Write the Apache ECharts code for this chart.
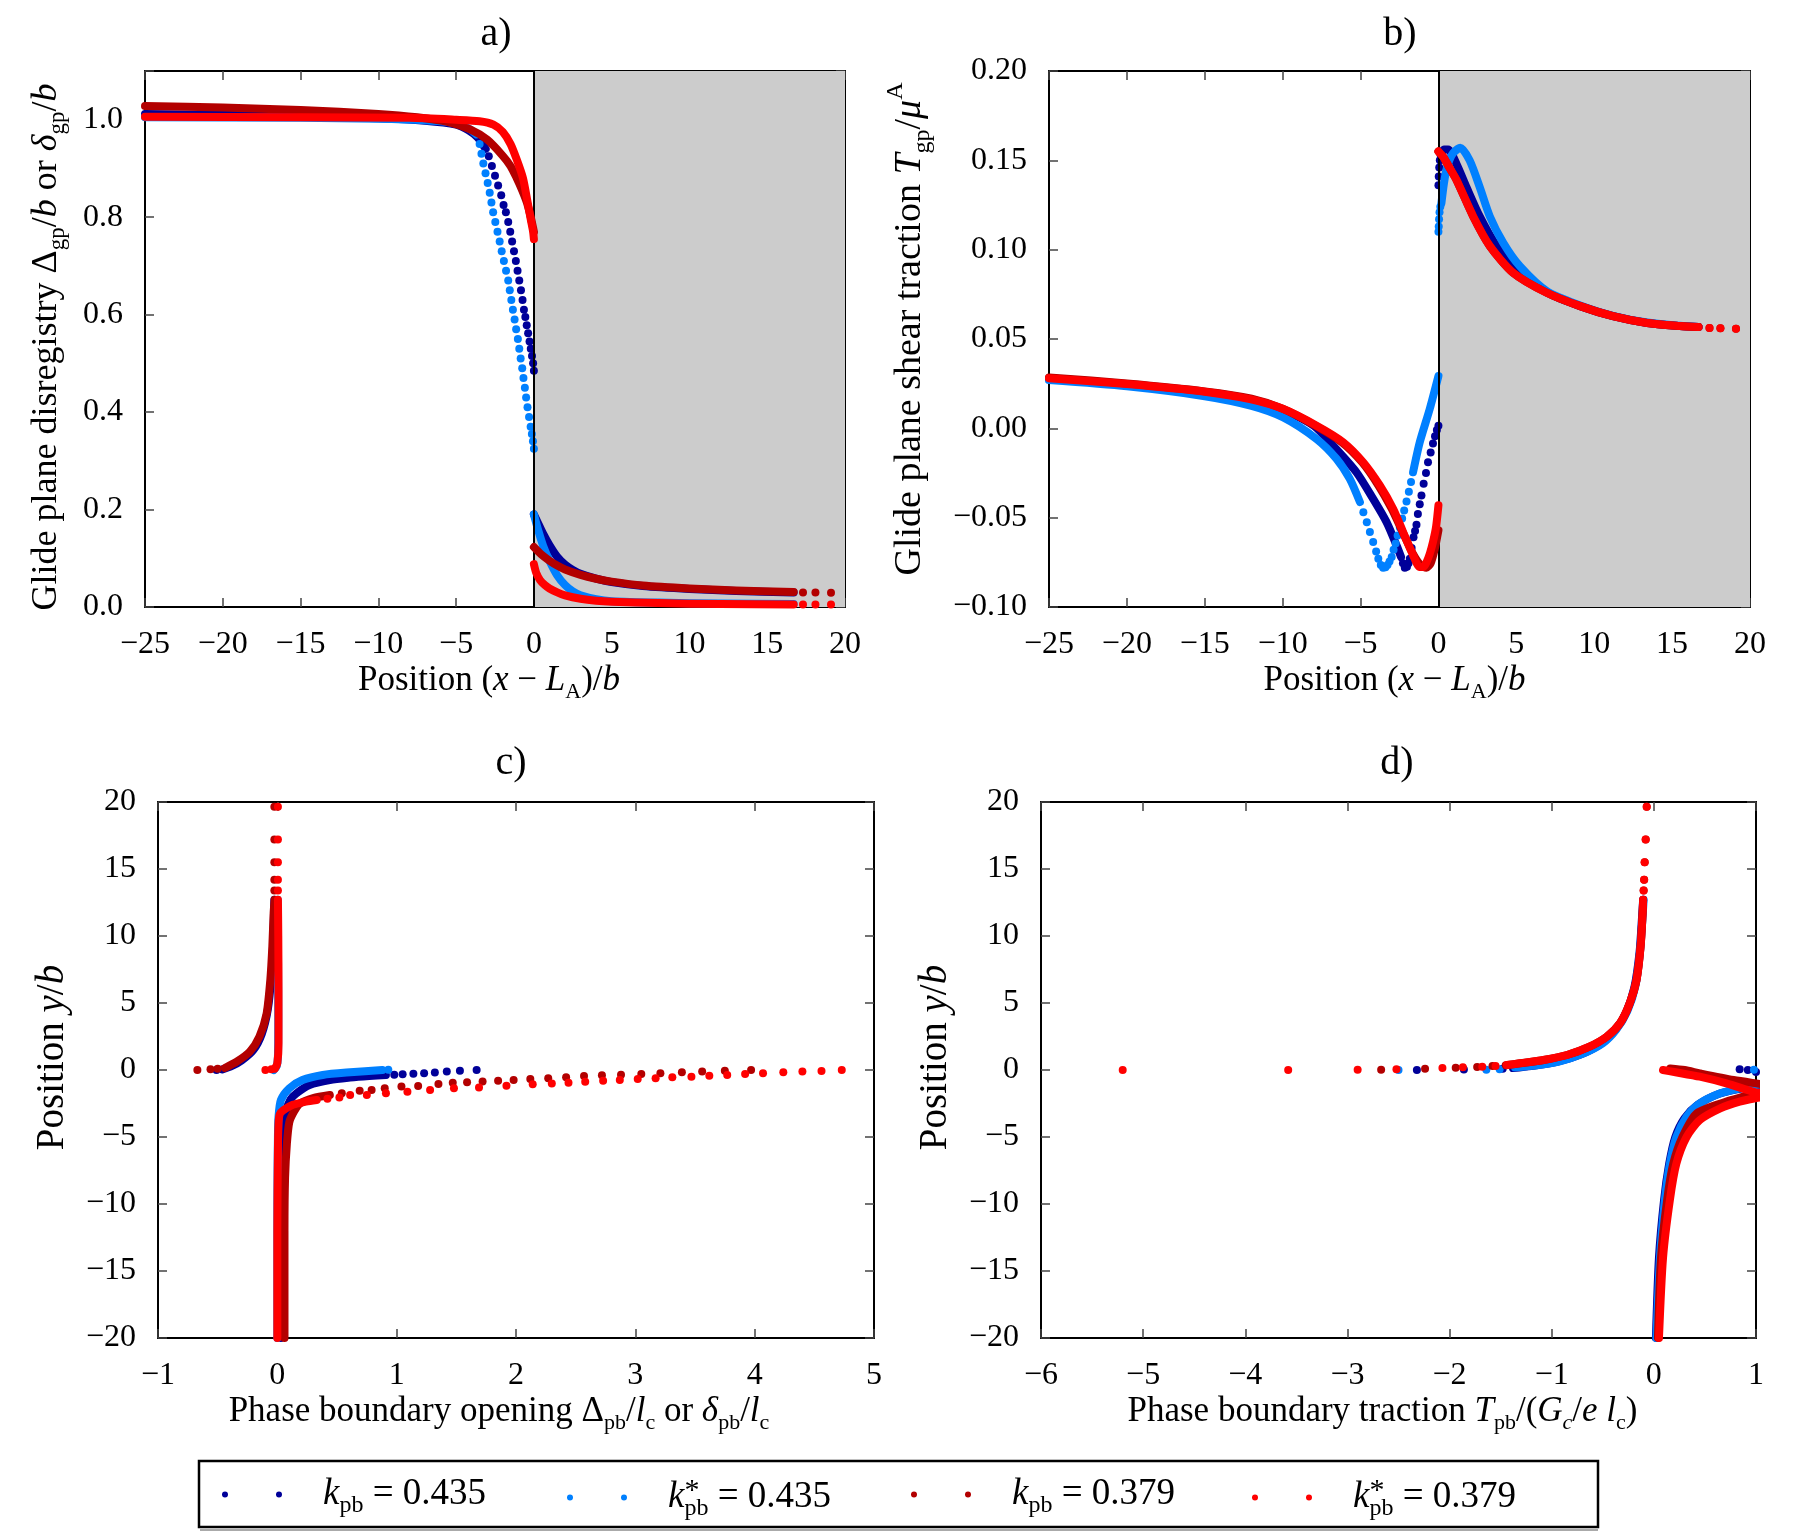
<!DOCTYPE html>
<html>
<head>
<meta charset="utf-8">
<script src="https://cdn.jsdelivr.net/npm/echarts@6/dist/echarts.min.js"></script>
<style>
html, body { margin: 0; padding: 0; background: #fff; }
#chart { width: 1800px; height: 1534px; }
</style>
</head>
<body>
<div id="chart"></div>
<script>
// ---- data: [x, y] pairs ----
// "Band" = densely sampled stretch (drawn as a thick line), "Dots" = isolated points

// a) glide plane disregistry
const aK435Band = [
  [[-25, 1.012], [-20, 1.01], [-15, 1.007], [-10, 1.003], [-7, 0.998], [-5, 0.99], [-4.2, 0.978], [-3.6, 0.963], [-3.1, 0.94]],
  [[0, 0.19], [0.3, 0.17], [0.6, 0.15], [1, 0.127], [1.5, 0.103], [2, 0.087], [2.5, 0.076], [3, 0.068], [4, 0.058], [5, 0.051], [7, 0.043], [10, 0.037], [13, 0.033], [16.7, 0.03]]
];
const aK435Dots = [[-2.9, 0.925], [-2.7, 0.905], [-2.5, 0.885], [-2.3, 0.865], [-2.1, 0.845], [-1.95, 0.825], [-1.8, 0.81], [-1.65, 0.79], [-1.52, 0.77], [-1.4, 0.75], [-1.28, 0.73], [-1.16, 0.71], [-1.05, 0.69], [-0.94, 0.67], [-0.83, 0.65], [-0.73, 0.63], [-0.64, 0.61], [-0.55, 0.595], [-0.46, 0.578], [-0.37, 0.562], [-0.28, 0.545], [-0.2, 0.53], [-0.12, 0.515], [-0.05, 0.5], [0, 0.485]];
const aKs435Band = [
  [[-25, 1.005], [-15, 1.004], [-10, 1.002], [-7, 0.999], [-5.5, 0.995], [-4.6, 0.988], [-4.1, 0.98], [-3.7, 0.97]],
  [[0, 0.19], [0.3, 0.155], [0.6, 0.125], [1, 0.095], [1.5, 0.065], [2, 0.045], [2.5, 0.032], [3, 0.024], [4, 0.016], [5, 0.012], [8, 0.009], [12, 0.007], [16.7, 0.006]]
];
const aKs435Dots = [[-3.49, 0.95], [-3.37, 0.93], [-3.25, 0.91], [-3.11, 0.89], [-2.97, 0.87], [-2.84, 0.85], [-2.73, 0.83], [-2.62, 0.81], [-2.48, 0.79], [-2.34, 0.77], [-2.2, 0.75], [-2.07, 0.73], [-1.93, 0.71], [-1.79, 0.69], [-1.65, 0.67], [-1.55, 0.65], [-1.45, 0.63], [-1.35, 0.61], [-1.24, 0.59], [-1.14, 0.57], [-1.03, 0.55], [-0.94, 0.53], [-0.85, 0.51], [-0.75, 0.49], [-0.67, 0.47], [-0.58, 0.45], [-0.5, 0.43], [-0.41, 0.41], [-0.31, 0.39], [-0.21, 0.37], [-0.13, 0.355], [-0.06, 0.34], [0, 0.325]];
const aK379Band = [
  [[-25, 1.028], [-20, 1.025], [-15, 1.02], [-10, 1.012], [-7.5, 1.005], [-5.5, 0.995], [-4.1, 0.98], [-3, 0.959], [-2, 0.926], [-1.5, 0.905], [-1.1, 0.88], [-0.75, 0.855], [-0.45, 0.83], [-0.2, 0.8], [-0.05, 0.778], [0, 0.77]],
  [[0, 0.123], [0.5, 0.107], [1, 0.095], [1.5, 0.085], [2, 0.077], [3, 0.066], [4, 0.058], [5, 0.052], [7, 0.044], [10, 0.038], [13, 0.034], [16.7, 0.031]]
];
const aK379Dots = [[17.3, 0.03], [18.1, 0.03], [19.1, 0.029]];
const aKs379Band = [
  [[-25, 1.006], [-15, 1.005], [-8, 1.004], [-5, 1.0], [-3.5, 0.997], [-2.6, 0.99], [-2, 0.975], [-1.5, 0.95], [-1.1, 0.918], [-0.7, 0.88], [-0.4, 0.83], [-0.2, 0.795], [-0.05, 0.77], [0, 0.755]],
  [[0, 0.088], [0.15, 0.07], [0.4, 0.055], [0.7, 0.045], [1, 0.038], [1.5, 0.03], [2, 0.024], [3, 0.017], [4, 0.013], [5, 0.011], [8, 0.008], [12, 0.006], [16.7, 0.005]]
];
const aKs379Dots = [[17.3, 0.005], [18.1, 0.005], [19.1, 0.005]];

// b) glide plane shear traction
const bK435Band = [
  [[-25, 0.0278], [-20, 0.0243], [-15, 0.0198], [-12, 0.0158], [-10, 0.0103], [-8, 0.0015], [-6.76, -0.0097], [-5.26, -0.0246], [-4.19, -0.0395], [-3.33, -0.0525], [-2.69, -0.0655], [-2.4, -0.072]],
  [[0.15, 0.153], [0.35, 0.156], [0.62, 0.156], [1.16, 0.148], [1.8, 0.135], [2.65, 0.1186], [3.73, 0.102], [5, 0.088], [7, 0.0759], [9.1, 0.0684], [11.2, 0.0628], [13.4, 0.059], [15.5, 0.0573], [16.7, 0.0567]]
];
const bK435Dots = [[-2.28, -0.0755], [-2.16, -0.078], [-2.02, -0.0775], [-1.92, -0.0755], [-1.84, -0.073], [-1.72, -0.067], [-1.6, -0.061], [-1.5, -0.0575], [-1.41, -0.054], [-1.32, -0.048], [-1.2, -0.0425], [-1.09, -0.0376], [-0.95, -0.031], [-0.8, -0.025], [-0.67, -0.019], [-0.5, -0.0135], [-0.35, -0.0085], [-0.22, -0.0045], [-0.1, -0.001], [0, 0.0015], [0, 0.136], [0.02, 0.141], [0.05, 0.146], [0.09, 0.15]];
const bKs435Band = [
  [[-25, 0.027], [-20, 0.0235], [-15, 0.018], [-12, 0.0126], [-9.96, 0.0061], [-7.82, -0.006], [-6.54, -0.0171], [-5.69, -0.0283], [-5.04, -0.0413]],
  [[-1.63, -0.0246], [-1.2, -0.0078], [-0.56, 0.0108], [0, 0.0293]],
  [[0.19, 0.126], [0.35, 0.137], [0.51, 0.1447], [0.7, 0.15], [0.94, 0.154], [1.4, 0.157], [2, 0.15], [2.65, 0.135], [3.3, 0.1186], [4.16, 0.1038], [5.23, 0.0907], [7, 0.0765], [9.1, 0.0688], [11.2, 0.063], [13.4, 0.0592], [15.5, 0.0574], [16.7, 0.0567]]
];
const bKs435Dots = [[-4.82, -0.047], [-4.6, -0.0525], [-4.4, -0.058], [-4.19, -0.0636], [-4, -0.069], [-3.86, -0.073], [-3.7, -0.0765], [-3.55, -0.078], [-3.4, -0.0778], [-3.27, -0.0765], [-3.14, -0.0745], [-3, -0.072], [-2.88, -0.068], [-2.75, -0.0645], [-2.62, -0.06], [-2.48, -0.0555], [-2.33, -0.0505], [-2.2, -0.046], [-2.05, -0.041], [-1.9, -0.0355], [-1.76, -0.03], [0, 0.11], [0.02, 0.113], [0.04, 0.117], [0.07, 0.121], [0.12, 0.124]];
const bK379Band = [
  [[-25, 0.0285], [-20, 0.0251], [-15, 0.0207], [-12, 0.0166], [-10, 0.011], [-8, 0.002], [-6.2, -0.0078], [-4.9, -0.019], [-3.85, -0.032], [-3, -0.045], [-2.3, -0.058], [-1.65, -0.07], [-1.15, -0.0765], [-0.77, -0.078], [-0.5, -0.0755], [-0.25, -0.068], [0, -0.057]],
  [[0, 0.155], [0.3, 0.152], [0.7, 0.146], [1.16, 0.139], [2.23, 0.1186], [3.3, 0.102], [4.8, 0.087], [6.95, 0.0759], [9.1, 0.0684], [11.2, 0.0628], [13.4, 0.059], [15.5, 0.0573], [16.7, 0.0567]]
];
const bK379Dots = [[17.4, 0.0562], [18.1, 0.056], [19.1, 0.0558]];
const bKs379Band = [
  [[-25, 0.028], [-20, 0.0248], [-15, 0.0205], [-12.1, 0.0163], [-9.96, 0.0108], [-7.82, 0.0015], [-6.11, -0.0078], [-4.83, -0.019], [-3.76, -0.032], [-2.91, -0.045], [-2.27, -0.058], [-1.63, -0.071], [-1.2, -0.0776], [-0.95, -0.0775], [-0.77, -0.075], [-0.55, -0.07], [-0.35, -0.0636], [-0.15, -0.055], [0, -0.043]],
  [[0, 0.155], [0.3, 0.152], [0.7, 0.146], [1.16, 0.139], [2.23, 0.1186], [3.3, 0.102], [4.8, 0.087], [6.95, 0.0759], [9.1, 0.0684], [11.2, 0.0628], [13.4, 0.059], [15.5, 0.0573], [16.7, 0.0567]]
];
const bKs379Dots = [[17.4, 0.0562], [18.1, 0.056], [19.1, 0.0558]];

// c) phase boundary opening vs position
const cK435Band = [
  [[-0.46, 0.05], [-0.38, 0.3], [-0.3, 0.7], [-0.2, 1.5], [-0.13, 2.7], [-0.08, 4.5], [-0.05, 7], [-0.035, 9.5], [-0.025, 12.7]],
  [[0.03, -20], [0.03, -12], [0.035, -8], [0.045, -5.5], [0.06, -4], [0.075, -3], [0.11, -2.2], [0.16, -1.74], [0.27, -1.12], [0.44, -0.75], [0.61, -0.57], [0.77, -0.45], [0.91, -0.37]]
];
const cK435Dots = [[-0.51, 0], [0.98, -0.35], [1.05, -0.32], [1.14, -0.28], [1.23, -0.24], [1.32, -0.18], [1.42, -0.12], [1.53, -0.06], [1.67, 0]];
const cKs435Band = [
  [[-0.03, 0], [-0.005, 0.3], [0.005, 1], [0.008, 4], [0.006, 8], [0.003, 12.7]],
  [[0, -20], [0, -10], [0.005, -5], [0.01, -3.5], [0.03, -2.24], [0.1, -1.37], [0.21, -0.75], [0.38, -0.37], [0.61, -0.17], [0.88, 0]]
];
const cKs435Dots = [[0.93, 0.02]];
const cK379Band = [
  [[-0.44, 0.15], [-0.34, 0.62], [-0.23, 1.37], [-0.15, 2.49], [-0.09, 4.2], [-0.059, 6.7], [-0.042, 9.2], [-0.031, 11.7], [-0.023, 12.7]],
  [[0.06, -20], [0.06, -12], [0.065, -8], [0.08, -5.5], [0.1, -3.9], [0.14, -3.1], [0.19, -2.5], [0.3, -2.1], [0.44, -1.87]]
];
const cK379Dots = [[-0.67, 0], [-0.56, 0.05], [-0.5, 0.1], [-0.025, 13.4], [-0.025, 14.2], [-0.025, 15.5], [-0.025, 17.2], [-0.025, 19.65], [0.54, -1.74], [0.69, -1.54], [0.79, -1.5], [0.9, -1.37], [1.04, -1.24], [1.18, -1.2], [1.35, -1.05], [1.47, -0.95], [1.59, -0.92], [1.72, -0.85], [1.85, -0.8], [1.98, -0.75], [2.12, -0.67], [2.27, -0.62], [2.42, -0.55], [2.57, -0.45], [2.72, -0.4], [2.88, -0.35], [3.05, -0.3], [3.21, -0.25], [3.39, -0.17], [3.56, -0.12], [3.75, -0.05], [3.97, 0]];
const cKs379Band = [
  [[-0.02, 0.1], [0, 0.5], [0.01, 2], [0.01, 6], [0.008, 10], [0.005, 12.7]],
  [[0, -20], [0, -12], [0.005, -6], [0.01, -4], [0.02, -3.3], [0.05, -3], [0.13, -2.6], [0.24, -2.36], [0.33, -2.24]]
];
const cKs379Dots = [[-0.1, 0], [-0.05, 0.05], [0.005, 13.4], [0.005, 14.2], [0.005, 15.5], [0.005, 17.2], [0.005, 19.65], [0.42, -2.15], [0.52, -2.05], [0.61, -1.87], [0.75, -1.87], [0.91, -1.74], [1.09, -1.62], [1.28, -1.49], [1.48, -1.37], [1.69, -1.3], [1.92, -1.17], [2.14, -1.07], [2.3, -1], [2.44, -0.95], [2.58, -0.87], [2.73, -0.8], [2.87, -0.75], [3.02, -0.67], [3.17, -0.62], [3.31, -0.55], [3.47, -0.5], [3.62, -0.42], [3.77, -0.37], [3.92, -0.3], [4.07, -0.25], [4.24, -0.17], [4.4, -0.12], [4.56, -0.07], [4.73, 0]];

// d) phase boundary traction vs position
const dK435Band = [
  [[-1.38, 0.15], [-1.2, 0.3], [-0.95, 0.6], [-0.72, 1.15], [-0.52, 1.95], [-0.38, 2.95], [-0.27, 4.3], [-0.19, 6.2], [-0.14, 8.8], [-0.115, 11.5], [-0.105, 12.7]],
  [[0.02, -20], [0.05, -14], [0.1, -9.7], [0.15, -7], [0.21, -5], [0.3, -3.6], [0.43, -2.6], [0.63, -1.8], [0.84, -1.4], [1, -1.15], [1.1, -1.05]]
];
const dK435Dots = [[-2.32, 0], [-1.86, 0.03], [-1.48, 0.1], [0.84, 0.05], [0.92, 0], [1, -0.15]];
const dKs435Band = [
  [[-1.36, 0.2], [-1.15, 0.35], [-0.92, 0.65], [-0.7, 1.2], [-0.5, 2], [-0.37, 3], [-0.26, 4.4], [-0.18, 6.3], [-0.135, 8.9], [-0.11, 11.5], [-0.1, 12.7]],
  [[0.025, -20], [0.06, -14], [0.108, -9.7], [0.157, -7], [0.22, -5], [0.32, -3.5], [0.45, -2.49], [0.65, -1.74], [0.84, -1.37], [1, -1.12], [1.1, -1]]
];
const dKs435Dots = [[-2.5, 0], [-1.64, 0.02], [-1.51, 0.06], [0.98, 0.02], [1.02, -0.1]];
const dK379Band = [
  [[-1.45, 0.35], [-1.31, 0.5], [-1.08, 0.75], [-0.85, 1.12], [-0.63, 1.74], [-0.46, 2.49], [-0.33, 3.5], [-0.235, 5], [-0.17, 6.7], [-0.13, 9.2], [-0.11, 11.7], [-0.105, 12.7]],
  [[0.16, 0.12], [0.3, 0], [0.45, -0.25], [0.78, -0.75], [1, -1], [1.1, -1.1]],
  [[0.04, -20], [0.07, -14], [0.13, -9.7], [0.19, -7], [0.28, -5], [0.42, -3.23], [0.71, -2.36], [1, -1.75], [1.1, -1.6]]
];
const dK379Dots = [[-2.67, 0.02], [-2.24, 0.1], [-1.94, 0.17], [-1.73, 0.23], [-1.58, 0.3], [-0.1, 13.4], [-0.095, 14.2], [-0.09, 15.5], [-0.08, 17.2], [-0.07, 19.65]];
const dKs379Band = [
  [[-1.44, 0.37], [-1.31, 0.5], [-1.08, 0.75], [-0.85, 1.12], [-0.63, 1.74], [-0.46, 2.49], [-0.33, 3.5], [-0.235, 5], [-0.17, 6.7], [-0.13, 9.2], [-0.11, 11.7], [-0.105, 12.7]],
  [[0.09, 0], [0.2, -0.15], [0.45, -0.5], [0.71, -1], [0.97, -1.62], [1.1, -1.85]],
  [[0.05, -20], [0.09, -14], [0.157, -9.7], [0.22, -7], [0.32, -5], [0.45, -3.73], [0.65, -2.86], [0.84, -2.36], [1, -2.1], [1.1, -1.98]]
];
const dKs379Dots = [[-5.2, 0], [-3.58, 0], [-2.9, 0.02], [-2.52, 0.05], [-2.07, 0.15], [-1.87, 0.2], [-1.68, 0.25], [-1.55, 0.3], [-0.1, 13.4], [-0.095, 14.2], [-0.09, 15.5], [-0.08, 17.2], [-0.07, 19.65]];

// legend labels
const seriesKeys = ['k435', 'ks435', 'k379', 'ks379'];
const legendLabels = {
  k435: '{sp| }{it|k}{sub|pb} = 0.435',
  ks435: '{sp| }{it|k}{star|*}{sub|pb} = 0.435',
  k379: '{sp| }{it|k}{sub|pb} = 0.379',
  ks379: '{sp| }{it|k}{star|*}{sub|pb} = 0.379'
};

// ---- styling ----
const FONT = '"Liberation Serif", "DejaVu Serif", serif';
const STYLE = {
  k435: { color: '#000099', z: 3 },
  ks435: { color: '#0080ff', z: 4 },
  k379: { color: '#b30000', z: 5 },
  ks379: { color: '#ff0000', z: 6 }
};
const DOT = 8;

function richSet(size) {
  const s = Math.round(size * 0.64);
  return {
    it: { fontStyle: 'italic', fontSize: size, fontFamily: FONT, color: '#000' },
    sub: { fontSize: s, fontFamily: FONT, color: '#000', padding: [Math.round(size * 0.62), 0, 0, 0] },
    subi: { fontSize: s, fontStyle: 'italic', fontFamily: FONT, color: '#000', padding: [Math.round(size * 0.62), 0, 0, 0] },
    sup: { fontSize: s, fontFamily: FONT, color: '#000', padding: [0, 0, Math.round(size * 0.75), 0] },
    star: { fontSize: Math.round(size * 0.8), fontFamily: FONT, color: '#000', padding: [0, 0, Math.round(size * 0.35), 0], width: 0 },
    sp: { width: 36 }
  };
}

function fmt(d, step) {
  return function (v) {
    if (step && Math.abs(v / step - Math.round(v / step)) > 1e-6) return '';
    const s = Math.abs(v).toFixed(d);
    return (v < -1e-9 ? '\u2212' : '') + s;
  };
}

const grids = [
  { left: 145, top: 71, width: 700, height: 536 },
  { left: 1049, top: 71, width: 701, height: 536 },
  { left: 158, top: 802, width: 716, height: 536 },
  { left: 1041, top: 802, width: 715, height: 536 }
];

const xAxes = [], yAxes = [];
// shiftPad: extra padding [top, right, bottom, left] used to nudge the axis name along the axis
function axisPair(list, g, isX, min, max, interval, labelFmt, name, nameGap, nameSize, shiftPad) {
  const common = {
    type: 'value', gridIndex: g, min: min, max: max, interval: interval,
    splitLine: { show: false },
    axisLine: { show: true, onZero: false, lineStyle: { color: '#000', width: 2 } },
    axisTick: { show: true, inside: true, length: 9, lineStyle: { color: '#444', width: 1.5 } }
  };
  list.push(Object.assign({}, common, {
    position: isX ? 'bottom' : 'left',
    axisLabel: { formatter: labelFmt, fontSize: 32, fontFamily: FONT, color: '#000', margin: isX ? 22 : 22 },
    name: name, nameLocation: 'middle', nameGap: nameGap,
    nameTextStyle: { fontSize: nameSize, fontFamily: FONT, color: '#000', rich: richSet(nameSize), padding: shiftPad }
  }));
  list.push(Object.assign({}, common, { position: isX ? 'top' : 'right', axisLabel: { show: false } }));
}

const posName = 'Position ({it|x} \u2212 {it|L}{sub|A})/{it|b}';
axisPair(xAxes, 0, true, -25, 20, 5, fmt(0), posName, 52, 35, [0, 12, 0, 0]);
axisPair(yAxes, 0, false, 0, 1.1, 0.2, fmt(1, 0.2), 'Glide plane disregistry \u0394{sub|gp}/{it|b} or {it|\u03b4}{sub|gp}/{it|b}', 76, 36, [0, 16, 0, 0]);
axisPair(xAxes, 1, true, -25, 20, 5, fmt(0), posName, 52, 35, [0, 10, 0, 0]);
axisPair(yAxes, 1, false, -0.1, 0.2, 0.05, fmt(2), 'Glide plane shear traction {it|T}{sub|gp}/{it|\u03bc}{sup|A}', 112, 38, [0, 0, 0, 20]);
axisPair(xAxes, 2, true, -1, 5, 1, fmt(0), 'Phase boundary opening \u0394{sub|pb}/{it|l}{sub|c} or {it|\u03b4}{sub|pb}/{it|l}{sub|c}', 52, 35, [0, 34, 0, 0]);
axisPair(yAxes, 2, false, -20, 20, 5, fmt(0), 'Position {it|y}/{it|b}', 86, 39, [0, 0, 0, 25]);
axisPair(xAxes, 3, true, -6, 1, 1, fmt(0), 'Phase boundary traction {it|T}{sub|pb}/({it|G}{subi|c}/{it|e l}{sub|c})', 52, 35, [0, 32, 0, 0]);
axisPair(yAxes, 3, false, -20, 20, 5, fmt(0), 'Position {it|y}/{it|b}', 86, 39, [0, 0, 0, 25]);

const series = [];
// gray shaded region and x = 0 line in panels a) and b)
[0, 1].forEach(function (g) {
  series.push({
    type: 'line', xAxisIndex: 2 * g, yAxisIndex: 2 * g, data: [], z: 1, silent: true,
    markArea: { silent: true, itemStyle: { color: '#cccccc' }, data: [[{ xAxis: 0 }, { xAxis: 20 }]] },
    markLine: { silent: true, symbol: 'none', label: { show: false }, lineStyle: { color: '#000', width: 2, type: 'solid' }, data: [{ xAxis: 0 }] }
  });
});

function addPanel(g, key, bands, dots) {
  const s = STYLE[key];
  bands.forEach(function (seg) {
    series.push({
      type: 'line', name: key, xAxisIndex: 2 * g, yAxisIndex: 2 * g, data: seg,
      symbol: 'none', z: s.z, silent: true, smooth: 0.25,
      lineStyle: { color: s.color, width: DOT, cap: 'round', join: 'round' },
      itemStyle: { color: s.color }
    });
  });
  series.push({
    type: 'scatter', name: key, xAxisIndex: 2 * g, yAxisIndex: 2 * g, data: dots,
    symbolSize: DOT, z: s.z, silent: true, itemStyle: { color: s.color, opacity: 1 }
  });
}

addPanel(0, 'k435', aK435Band, aK435Dots);
addPanel(0, 'ks435', aKs435Band, aKs435Dots);
addPanel(0, 'k379', aK379Band, aK379Dots);
addPanel(0, 'ks379', aKs379Band, aKs379Dots);
addPanel(1, 'k435', bK435Band, bK435Dots);
addPanel(1, 'ks435', bKs435Band, bKs435Dots);
addPanel(1, 'k379', bK379Band, bK379Dots);
addPanel(1, 'ks379', bKs379Band, bKs379Dots);
addPanel(2, 'k435', cK435Band, cK435Dots);
addPanel(2, 'ks435', cKs435Band, cKs435Dots);
addPanel(2, 'k379', cK379Band, cK379Dots);
addPanel(2, 'ks379', cKs379Band, cKs379Dots);
addPanel(3, 'k435', dK435Band, dK435Dots);
addPanel(3, 'ks435', dKs435Band, dKs435Dots);
addPanel(3, 'k379', dK379Band, dK379Dots);
addPanel(3, 'ks379', dKs379Band, dKs379Dots);

const TWO_DOTS = 'path://M0,1a1,1 0 1,0 2,0a1,1 0 1,0 -2,0zM18,1a1,1 0 1,0 2,0a1,1 0 1,0 -2,0z';
const legendLeft = [222, 567, 911, 1252];
const legends = seriesKeys.map(function (key, i) {
  return {
    data: [key], left: legendLeft[i], top: 1476, padding: 0,
    icon: TWO_DOTS, itemWidth: 60, itemHeight: 6, selectedMode: false,
    formatter: function (n) { return legendLabels[n]; },
    textStyle: { fontSize: 37, fontFamily: FONT, color: '#000', rich: richSet(37) }
  };
});

function title(text, x, y) {
  return { type: 'text', x: x, y: y, style: { text: text, font: '40px ' + FONT, fill: '#000', align: 'center', verticalAlign: 'middle' } };
}

const chart = echarts.init(document.getElementById('chart'));
chart.setOption({
  animation: false,
  backgroundColor: '#fff',
  grid: grids,
  xAxis: xAxes,
  yAxis: yAxes,
  legend: legends,
  series: series,
  graphic: [
    title('a)', 496, 34),
    title('b)', 1400, 34),
    title('c)', 511, 763),
    title('d)', 1397, 763),
    { type: 'rect', shape: { x: 199, y: 1461, width: 1399, height: 66 }, style: { fill: 'none', stroke: '#000', lineWidth: 2.5 } },
    { type: 'line', shape: { x1: 200, y1: 1530, x2: 1598, y2: 1530 }, style: { stroke: '#aaa', lineWidth: 2 } }
  ]
});
</script>
</body>
</html>
